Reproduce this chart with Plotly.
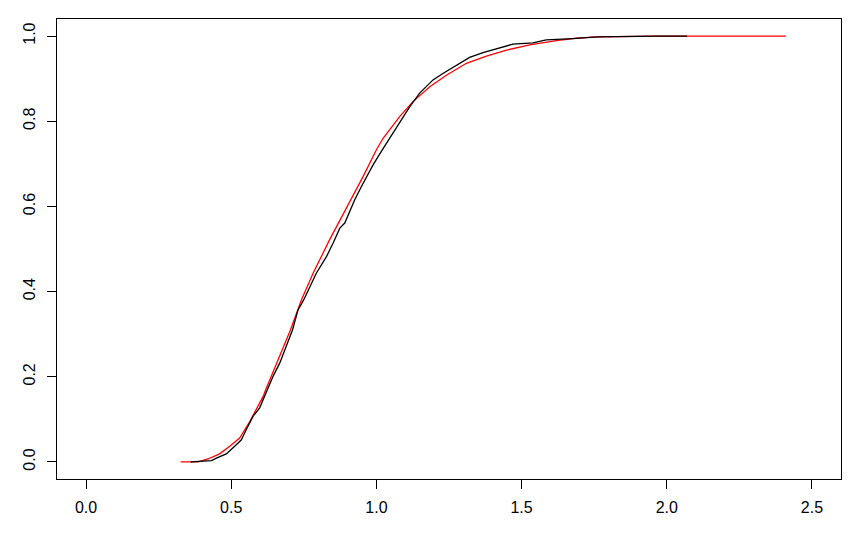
import plotly.graph_objects as go

black_x = [0.36, 0.432, 0.449, 0.483, 0.512, 0.535, 0.552, 0.575, 0.598, 0.610,
           0.623, 0.644, 0.667, 0.684, 0.701, 0.711, 0.730, 0.750, 0.793, 0.828,
           0.851, 0.874, 0.891, 0.908, 0.925, 0.948, 0.966, 0.988, 1.017, 1.046,
           1.080, 1.115, 1.149, 1.195, 1.229, 1.258, 1.287, 1.321, 1.367, 1.425,
           1.470, 1.539, 1.585, 1.677, 1.763, 1.964, 2.07]
black_y = [0.0, 0.003, 0.009, 0.019, 0.037, 0.052, 0.076, 0.107, 0.127, 0.146,
           0.170, 0.201, 0.232, 0.263, 0.291, 0.310, 0.357, 0.381, 0.443, 0.482,
           0.514, 0.549, 0.561, 0.588, 0.615, 0.646, 0.670, 0.697, 0.729, 0.760,
           0.799, 0.834, 0.866, 0.897, 0.912, 0.924, 0.937, 0.950, 0.961, 0.973,
           0.981, 0.984, 0.991, 0.994, 0.998, 1.0, 1.0]

# Reference CDF (red)
red_x = [0.326, 0.386, 0.42, 0.46, 0.495, 0.529, 0.564, 0.587, 0.61, 0.619,
         0.633, 0.650, 0.678, 0.704, 0.742, 0.782, 0.839, 0.897, 0.954, 1.0,
         1.023, 1.080, 1.126, 1.184, 1.241, 1.310, 1.379, 1.448, 1.528, 1.620,
         1.689, 1.758, 1.964, 2.41]
red_y = [0.0, 0.0, 0.007, 0.019, 0.037, 0.056, 0.095, 0.123, 0.154, 0.170,
         0.193, 0.224, 0.271, 0.310, 0.381, 0.443, 0.522, 0.596, 0.670, 0.733,
         0.760, 0.811, 0.846, 0.881, 0.908, 0.936, 0.953, 0.967, 0.979, 0.989,
         0.995, 0.998, 1.0, 1.0]

x_ticks = [0.0, 0.5, 1.0, 1.5, 2.0, 2.5]
y_ticks = [0.0, 0.2, 0.4, 0.6, 0.8, 1.0]

fig = go.Figure()
fig.add_trace(go.Scatter(x=red_x, y=red_y, mode="lines",
                         line=dict(color="#ff0000", width=1.3), showlegend=False))
fig.add_trace(go.Scatter(x=black_x, y=black_y, mode="lines",
                         line=dict(color="#000000", width=1.3), showlegend=False))

axis_common = dict(showgrid=False, zeroline=False, showline=True, linecolor="black",
                   linewidth=1, mirror=True, ticks="outside", ticklen=9, tickwidth=1,
                   tickcolor="black", automargin=False,
                   tickfont=dict(family="Liberation Sans, Arial, sans-serif", size=16,
                                 color="black"))

# page body has an 8px margin, so the figure is sized/offset to compensate
fig.update_layout(
    width=845, height=521,
    margin=dict(l=49, r=12, t=11, b=50),
    paper_bgcolor="white", plot_bgcolor="white",
    xaxis=dict(range=[-0.1, 2.6], tickvals=x_ticks,
               ticktext=[f"{v:.1f}" for v in x_ticks], ticklabelstandoff=5,
               **axis_common),
    yaxis=dict(range=[-0.04, 1.04], tickvals=y_ticks,
               ticktext=[f"{v:.1f}" for v in y_ticks], tickangle=-90,
               ticklabelstandoff=6, **axis_common),
)

fig.write_html("out.html")
